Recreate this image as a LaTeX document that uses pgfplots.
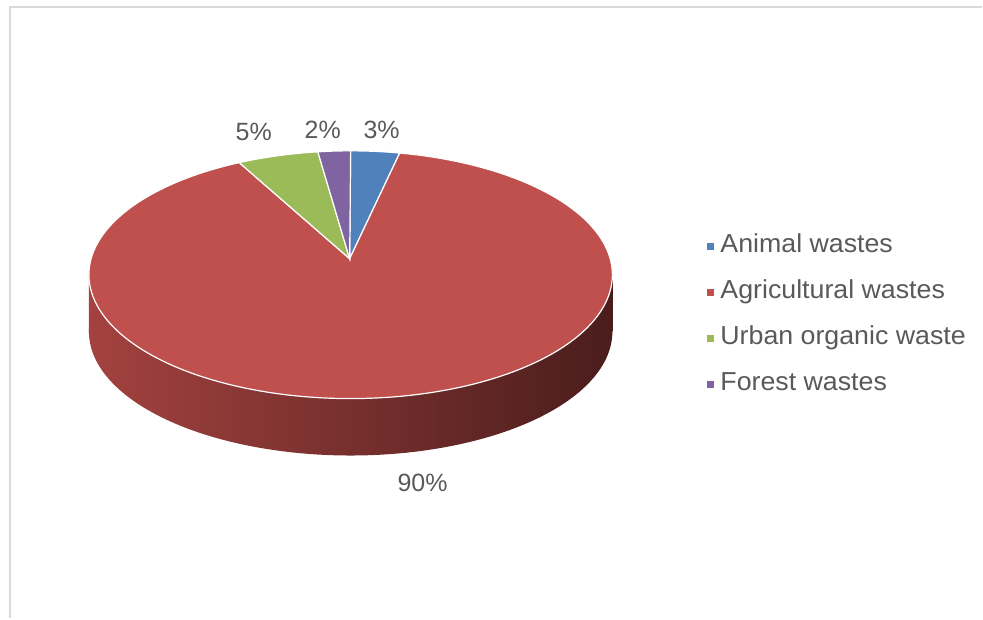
\documentclass[border=0pt]{standalone}
\usepackage{pgfplots}
\pgfplotsset{compat=1.18}
\usepackage{pgfplotstable}
\usepackage{fontspec}
\setmainfont{Liberation Sans}
\definecolor{cBlue}{HTML}{4F81BD}
\definecolor{cRed}{HTML}{C0504D}
\definecolor{cGreen}{HTML}{9BBB59}
\definecolor{cPurple}{HTML}{8064A2}
\definecolor{sideL}{HTML}{A3423F}
\definecolor{sideM}{HTML}{6C2A28}
\definecolor{sideR}{HTML}{4A1D1C}
\definecolor{tgray}{HTML}{595959}
\definecolor{frame}{HTML}{D9D9D9}

\pgfplotstableread{
name value
Animal 3
Agricultural 90
Urban 5
Forest 2
}\piedata

\begin{document}
\begin{tikzpicture}
\pgfplotstablegetelem{0}{value}\of\piedata \pgfmathsetmacro\vA{\pgfplotsretval}
\pgfplotstablegetelem{1}{value}\of\piedata \pgfmathsetmacro\vB{\pgfplotsretval}
\pgfplotstablegetelem{2}{value}\of\piedata \pgfmathsetmacro\vC{\pgfplotsretval}
\pgfplotstablegetelem{3}{value}\of\piedata \pgfmathsetmacro\vD{\pgfplotsretval}
\pgfmathsetmacro\aA{90}
\pgfmathsetmacro\aB{\aA-3.6*\vA}
\pgfmathsetmacro\aC{\aB-3.6*\vB}
\pgfmathsetmacro\aD{\aC-3.6*\vC}
\pgfmathsetmacro\aE{\aD-3.6*\vD}
\def\cx{351}\def\cy{344}\def\rx{262}\def\ry{124}
\def\px{350}\def\py{360}\def\dep{57}
\begin{axis}[
  width=983bp, height=619bp, scale only axis,
  xmin=0, xmax=983, ymin=0, ymax=619,
  hide axis, clip=false,
  legend cell align=left,
  legend image code/.code={\fill[#1,draw=none] (0bp,-3.5bp) rectangle (7bp,3.5bp);},
  legend style={draw=none, fill=none, inner sep=0pt,
    at={(0.7202,0.6204)}, anchor=north west,
    font=\fontsize{26bp}{31bp}\selectfont, text=tgray,
    row sep=23bp, column sep=6bp,
    nodes={inner sep=0pt, text height=18bp, text depth=5bp}},
]
\path (axis cs:0,0) (axis cs:983,619);
% side of the cylinder
\addplot[draw=none, left color=sideL, middle color=sideM, right color=sideR,
  domain=0:360, samples=200, variable=\t, forget plot]
  ({\cx+\rx*cos(\t)},{\cy-\dep+\ry*sin(\t)}) -- cycle;
\addplot[draw=none, left color=sideL, middle color=sideM, right color=sideR, forget plot]
  coordinates {(\cx-\rx,\cy) (\cx+\rx,\cy) (\cx+\rx,\cy-\dep) (\cx-\rx,\cy-\dep)} -- cycle;
% top slices
\addplot[fill=cBlue, draw=white, line width=1.2bp, domain=\aB:\aA, samples=30, variable=\t]
  ({\cx+\rx*cos(\t)},{\cy+\ry*sin(\t)}) -- (axis cs:\px,\py) -- cycle;
\addlegendentry{\scalebox{1.03}[1]{Animal wastes}}
\addplot[fill=cRed, draw=white, line width=1.2bp, domain=\aC:\aB, samples=300, variable=\t]
  ({\cx+\rx*cos(\t)},{\cy+\ry*sin(\t)}) -- (axis cs:\px,\py) -- cycle;
\addlegendentry{\scalebox{1.03}[1]{Agricultural wastes}}
\addplot[fill=cGreen, draw=white, line width=1.2bp, domain=\aD:\aC, samples=30, variable=\t]
  ({\cx+\rx*cos(\t)},{\cy+\ry*sin(\t)}) -- (axis cs:\px,\py) -- cycle;
\addlegendentry{\scalebox{1.03}[1]{Urban organic waste}}
\addplot[fill=cPurple, draw=white, line width=1.2bp, domain=\aE:\aD, samples=30, variable=\t]
  ({\cx+\rx*cos(\t)},{\cy+\ry*sin(\t)}) -- (axis cs:\px,\py) -- cycle;
\addlegendentry{\scalebox{1.03}[1]{Forest wastes}}
% percentage labels
\begin{scope}[every node/.style={font=\fontsize{25bp}{30bp}\selectfont, text=tgray, anchor=base, inner sep=0pt}]
\node at (axis cs:382,{619-139}) {3\%};
\node at (axis cs:323,{619-139}) {2\%};
\node at (axis cs:254,{619-141}) {5\%};
\node at (axis cs:423,{619-492}) {90\%};
\end{scope}
% chart area frame
\draw[frame, line width=2bp] (axis cs:10,0) -- (axis cs:10,612) -- (axis cs:983,612);
\end{axis}
\end{tikzpicture}
\end{document}
